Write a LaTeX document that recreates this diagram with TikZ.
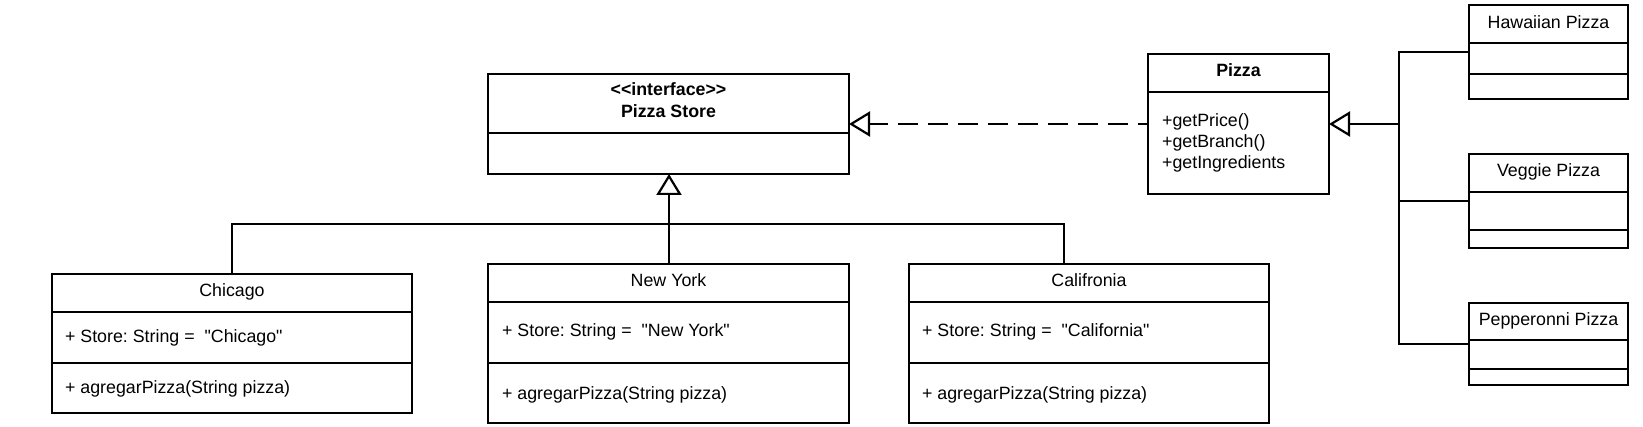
\documentclass[tikz,border=0pt]{standalone}
\usepackage{fontspec}
\newfontfamily\umlfont{Liberation Sans}
\usetikzlibrary{arrows.meta,calc}
\frenchspacing
\begin{document}
\begin{tikzpicture}[x=1pt,y=-1pt,line width=2.2pt,
  box/.style={draw,line width=2.2pt,inner sep=0pt,outer sep=0pt},
  txt/.style={font=\umlfont\fontsize{17.8}{21}\selectfont,inner sep=0pt,anchor=base},
  ltxt/.style={txt,anchor=base west},
  gentip/.style={-{Triangle[open,length=21pt,width=25pt,line width=2.2pt]}},
  realize/.style={gentip,dash pattern=on 20pt off 10pt,dash phase=10pt}]
\useasboundingbox (0,0) rectangle (1643,427);

% interface
\node[box,minimum width=361pt,minimum height=100pt] (iface) at (668.5,124) {};
\draw (488,133) -- (849,133);
\node[txt] (ifst) at (668.5,96) {\bfseries<<interface>>};
\node[txt] (ifname) at (668.5,118) {\bfseries Pizza Store};

% Pizza
\node[box,minimum width=181pt,minimum height=140pt] (pizza) at (1238.5,124) {};
\draw (1148,92) -- (1329,92);
\node[txt] (pzname) at (1238.5,76.5) {\bfseries Pizza};
\node[ltxt] (pzm1) at (1161,127) {+getPrice()};
\node[ltxt] (pzm2) at (1161,147.5) {+getBranch()};
\node[ltxt] (pzm3) at (1161,168.3) {+getIngredients};

% subclasses of Pizza
\node[box,minimum width=159pt,minimum height=94pt] (haw) at (1548.5,52) {};
\draw (1469,43) -- (1628,43);
\draw (1469,74) -- (1628,74);
\node[txt] (hawname) at (1548.5,29) {Hawaiian Pizza};

\node[box,minimum width=159pt,minimum height=94pt] (veg) at (1548.5,201) {};
\draw (1469,192) -- (1628,192);
\draw (1469,230) -- (1628,230);
\node[txt] (vegname) at (1548.5,177) {Veggie Pizza};

\node[box,minimum width=159pt,minimum height=82pt] (pep) at (1548.5,344) {};
\draw (1469,340) -- (1628,340);
\draw (1469,369) -- (1628,369);
\node[txt] (pepname) at (1548.5,326) {Pepperonni Pizza};

% stores
\node[box,minimum width=360pt,minimum height=139pt] (chi) at (232,343.5) {};
\draw (52,312) -- (412,312);
\draw (52,363) -- (412,363);
\node[txt] (chiname) at (232,296.7) {Chicago};
\node[ltxt] (chiatt) at (64,343) {+ Store: String =~~"Chicago"};
\node[ltxt] (chiop) at (64,393) {+ agregarPizza(String pizza)};

\node[box,minimum width=361pt,minimum height=159pt] (ny) at (668.5,343.5) {};
\draw (488,302) -- (849,302);
\draw (488,363) -- (849,363);
\node[txt] (nyname) at (668.5,287) {New York};
\node[ltxt] (nyatt) at (501,336.5) {+ Store: String =~~"New York"};
\node[ltxt] (nyop) at (501,399) {+ agregarPizza(String pizza)};

\node[box,minimum width=360pt,minimum height=159pt] (cal) at (1089,343.5) {};
\draw (909,302) -- (1269,302);
\draw (909,363) -- (1269,363);
\node[txt] (calname) at (1089,287) {Califronia};
\node[ltxt] (calatt) at (921,336.5) {+ Store: String =~~"California"};
\node[ltxt] (calop) at (921,399) {+ agregarPizza(String pizza)};

% connectors
\coordinate (bus) at (0,224);
\coordinate (calin) at ($(cal.north)+(-25,0)$);
\coordinate (nyin) at ($(ny.north)+(0.5,0)$);
\draw (chi.north) -- (chi.north |- bus) -- (calin |- bus) -- (calin);
\draw[gentip] (nyin) -- (nyin |- iface.south);
\draw[realize] (pizza.west) -- (iface.east);

\coordinate (pb) at (1399,124);
\draw (haw.west) -| (pb) |- (pep.west);
\draw (veg.west) -- (veg.west -| pb);
\draw[gentip] (pb) -- (pizza.east);
\end{tikzpicture}
\end{document}
